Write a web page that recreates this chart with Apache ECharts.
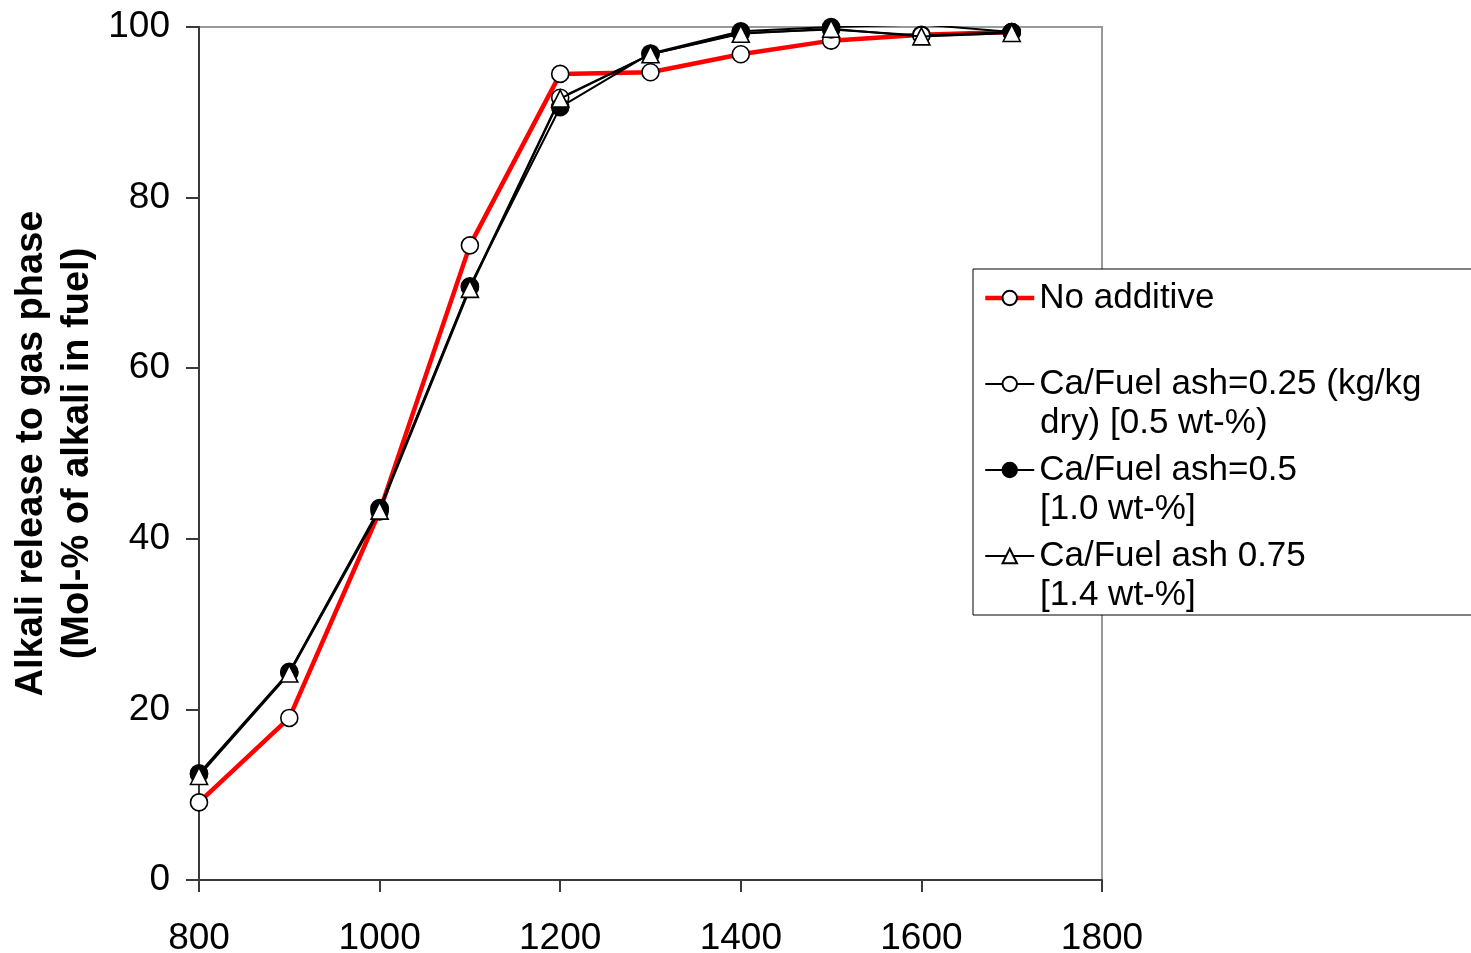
<!DOCTYPE html>
<html>
<head>
<meta charset="utf-8">
<style>
  html, body { margin: 0; padding: 0; background: #fff; }
  #chart { width: 1471px; height: 953px; }
</style>
<script src="https://cdn.jsdelivr.net/npm/echarts@6/dist/echarts.min.js"></script>
</head>
<body>
<div id="chart"></div>
<script>
// Temperature (°C) of each measurement
const temperatures = [800, 900, 1000, 1100, 1200, 1300, 1400, 1500, 1600, 1700];

// Alkali release, mol-% of alkali in fuel
const noAdditive = [9.1, 19.0, 43.2, 74.4, 94.5, 94.7, 96.8, 98.4, 99.1, 99.4];
const caAsh025   = [12.4, 24.3, 43.5, 69.5, 91.7, 96.8, 99.3, 99.7, 99.0, 99.4];
const caAsh050   = [12.5, 24.4, 43.6, 69.6, 90.6, 96.9, 99.5, 100.0, 100.3, 99.4];
const caAsh075   = [12.2, 24.2, 43.3, 69.3, 91.6, 96.8, 99.2, 99.8, 98.9, 99.3];

// Legend text: first line goes with the legend entry, second line is drawn beneath it
const seriesNames = [
  'No additive',
  'Ca/Fuel ash=0.25 (kg/kg',
  'Ca/Fuel ash=0.5',
  'Ca/Fuel ash 0.75'
];
const secondLines = ['', 'dry) [0.5 wt-%)', '[1.0 wt-%]', '[1.4 wt-%]'];

const xTicks = { min: 800, max: 1800, step: 200 };
const yTicks = { min: 0, max: 100, step: 20 };

const FONT = '"Liberation Sans", Arial, sans-serif';
const AXIS_COLOR = '#3a3a3a';

function pairs(values) {
  return temperatures.map((t, i) => [t, values[i]]);
}

const chart = echarts.init(document.getElementById('chart'), null, { renderer: 'canvas' });

const markerStyle = (fill) => ({ color: fill, borderColor: '#000', borderWidth: 1.6 });
const lineWidths = [4.5, 2, 2, 2];
const lineColors = ['#ff0000', '#000', '#000', '#000'];

const option = {
  backgroundColor: '#fff',
  animation: false,
  grid: {
    left: 199, top: 27, right: 369, bottom: 73,
    outerBoundsMode: 'none',
    containLabel: false,
    show: true, borderColor: '#999', borderWidth: 2, backgroundColor: 'transparent'
  },
  xAxis: {
    type: 'value',
    min: xTicks.min, max: xTicks.max, interval: xTicks.step,
    axisLine: { show: true, lineStyle: { color: AXIS_COLOR, width: 2 } },
    axisTick: { show: true, inside: false, length: 12, lineStyle: { color: AXIS_COLOR, width: 2 } },
    axisLabel: { fontFamily: FONT, fontSize: 37, color: '#000', margin: 40, formatter: (v) => String(v) },
    splitLine: { show: false }
  },
  yAxis: {
    type: 'value',
    min: yTicks.min, max: yTicks.max, interval: yTicks.step,
    name: 'Alkali release to gas phase\n(Mol-% of alkali in fuel)',
    nameLocation: 'middle',
    nameRotate: 90,
    nameGap: 98,
    nameMoveOverlap: false,
    nameTextStyle: { fontFamily: FONT, fontSize: 38, fontWeight: 'bold', color: '#000', lineHeight: 46 },
    axisLine: { show: true, lineStyle: { color: AXIS_COLOR, width: 2 } },
    axisTick: { show: true, inside: false, length: 13, lineStyle: { color: AXIS_COLOR, width: 2 } },
    axisLabel: { fontFamily: FONT, fontSize: 37, color: '#000', margin: 29 },
    splitLine: { show: false }
  },
  legend: {
    orient: 'vertical',
    left: 973, top: 269,
    padding: [11, 140, 41, 10],
    itemGap: 50,
    itemWidth: 49,
    itemHeight: 18,
    backgroundColor: '#fff',
    borderColor: '#000',
    borderWidth: 1,
    textStyle: { fontFamily: FONT, fontSize: 35, color: '#000', lineHeight: 36 },
    data: seriesNames.map((n, i) => ({
      name: n,
      lineStyle: { width: lineWidths[i], color: lineColors[i] }
    }))
  },
  series: [
    {
      name: seriesNames[0], type: 'line', data: pairs(noAdditive),
      symbol: 'circle', symbolSize: 17, z: 2,
      lineStyle: { color: lineColors[0], width: lineWidths[0] },
      itemStyle: markerStyle('#fff')
    },
    {
      name: seriesNames[1], type: 'line', data: pairs(caAsh025),
      symbol: 'circle', symbolSize: 17, z: 3,
      lineStyle: { color: lineColors[1], width: lineWidths[1] },
      itemStyle: markerStyle('#fff')
    },
    {
      name: seriesNames[2], type: 'line', data: pairs(caAsh050),
      symbol: 'circle', symbolSize: 17, z: 4,
      lineStyle: { color: lineColors[2], width: lineWidths[2] },
      itemStyle: markerStyle('#000')
    },
    {
      name: seriesNames[3], type: 'line', data: pairs(caAsh075),
      symbol: 'triangle', symbolSize: 17, z: 5,
      lineStyle: { color: lineColors[3], width: lineWidths[3] },
      itemStyle: markerStyle('#fff')
    }
  ],
  graphic: secondLines.map((txt, i) => ({
    type: 'text',
    x: 1040,
    y: 296 + 86 * i + 41,
    z: 100,
    style: { text: txt, font: '35px ' + FONT, fill: '#000', verticalAlign: 'middle', align: 'left' }
  })).filter(g => g.style.text)
};

chart.setOption(option);
</script>
</body>
</html>
